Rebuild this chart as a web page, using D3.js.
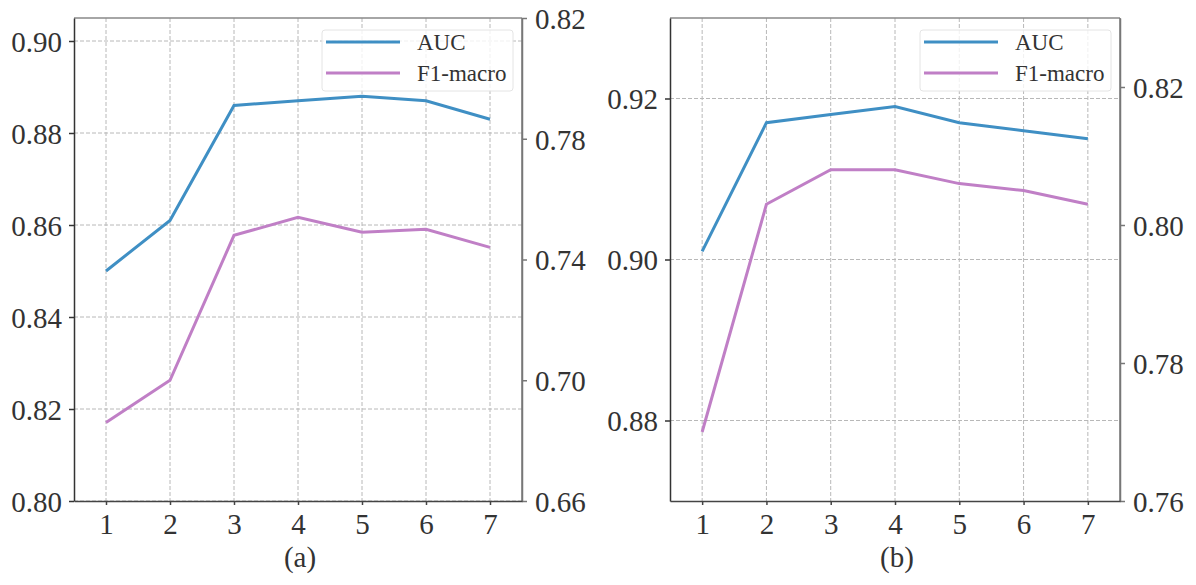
<!DOCTYPE html>
<meta charset="utf-8">
<html>
  <head>
    <script src="https://d3js.org/d3.v7.min.js"></script>
    <style>
      body { margin: 0; background: #fff; }
      text { font-family: "Liberation Serif", "Times New Roman", serif; fill: #333; }
    </style>
  </head>
  <body>
    <div id="chart"></div>

    <script type="text/javascript">
      // data
      var steps = [1, 2, 3, 4, 5, 6, 7];
      var aucA = [0.850, 0.861, 0.886, 0.887, 0.888, 0.887, 0.883];
      var f1A  = [0.686, 0.700, 0.748, 0.754, 0.749, 0.750, 0.744];
      var aucB = [0.901, 0.917, 0.918, 0.919, 0.917, 0.916, 0.915];
      var f1B  = [0.770, 0.803, 0.808, 0.808, 0.806, 0.805, 0.803];
      var leftTicksA  = [0.80, 0.82, 0.84, 0.86, 0.88, 0.90];
      var rightTicksA = [0.66, 0.70, 0.74, 0.78, 0.82];
      var leftTicksB  = [0.88, 0.90, 0.92];
      var rightTicksB = [0.76, 0.78, 0.80, 0.82];
      var seriesNames = ["AUC", "F1-macro"];
      var colors = ["#3f8fc4", "#c07fc6"];

      var width = 1196, height = 585;

      var svg = d3.select("#chart").append("svg")
          .attr("width", width)
          .attr("height", height);

      function panel(opt) {
        var x = d3.scaleLinear().domain([0.5, 7.5]).range([opt.left, opt.right]);
        var yL = d3.scaleLinear().domain(opt.leftDomain).range([501, 18]);
        var yR = d3.scaleLinear().domain(opt.rightDomain).range([501, 18]);
        var g = svg.append("g");

        // grid
        g.selectAll(".vgrid").data(steps).enter().append("line")
            .attr("x1", function(d){ return x(d); }).attr("x2", function(d){ return x(d); })
            .attr("y1", 18).attr("y2", 501)
            .style("stroke", "#b8b8b8").style("stroke-width", 1).style("stroke-dasharray", "4,2");
        g.selectAll(".hgrid").data(opt.leftTicks).enter().append("line")
            .attr("x1", opt.left).attr("x2", opt.right)
            .attr("y1", function(d){ return yL(d); }).attr("y2", function(d){ return yL(d); })
            .style("stroke", "#b8b8b8").style("stroke-width", 1).style("stroke-dasharray", "4,2");

        // lines
        var lineL = d3.line().x(function(d, i){ return x(steps[i]); }).y(function(d){ return yL(d); });
        var lineR = d3.line().x(function(d, i){ return x(steps[i]); }).y(function(d){ return yR(d); });
        g.append("path").datum(opt.auc).attr("d", lineL)
            .style("fill", "none").style("stroke", colors[0]).style("stroke-width", 3);
        g.append("path").datum(opt.f1).attr("d", lineR)
            .style("fill", "none").style("stroke", colors[1]).style("stroke-width", 3);

        // spines
        g.append("line").attr("x1", opt.left).attr("x2", opt.right).attr("y1", 18).attr("y2", 18)
            .style("stroke", "#888").style("stroke-width", 1.5);
        g.append("line").attr("x1", opt.right).attr("x2", opt.right).attr("y1", 18).attr("y2", 501)
            .style("stroke", "#777").style("stroke-width", 1.5);

        // axes
        var axL = g.append("g").attr("transform", "translate(" + opt.left + ",0)")
            .call(d3.axisLeft(yL).tickValues(opt.leftTicks).tickFormat(d3.format(".2f"))
              .tickSizeInner(5).tickSizeOuter(0).tickPadding(7));
        var axR = g.append("g").attr("transform", "translate(" + opt.right + ",0)")
            .call(d3.axisRight(yR).tickValues(opt.rightTicks).tickFormat(d3.format(".2f"))
              .tickSizeInner(5).tickSizeOuter(0).tickPadding(8));
        var axB = g.append("g").attr("transform", "translate(0,501)")
            .call(d3.axisBottom(x).tickValues(steps).tickFormat(d3.format("d"))
              .tickSizeInner(4).tickSizeOuter(0).tickPadding(8));

        [axL, axR, axB].forEach(function(a){
          a.selectAll("text").style("font-size", "29px").style("font-family", "Liberation Serif").style("fill", "#333");
        });
        axL.select(".domain").style("stroke", "#333").style("stroke-width", 1.5);
        axL.selectAll(".tick line").style("stroke", "#333").style("stroke-width", 1.5);
        axR.select(".domain").style("stroke", "#777").style("stroke-width", 1.5);
        axR.selectAll(".tick line").style("stroke", "#777").style("stroke-width", 1.5);
        axB.select(".domain").style("stroke", "#444").style("stroke-width", 1.5);
        axB.selectAll(".tick line").style("stroke", "#444").style("stroke-width", 1.5);
        axL.selectAll("text").attr("dy", "0.36em");
        axR.selectAll("text").attr("dy", "0.36em");

        // legend
        var lx = opt.right - 200, ly = 30;
        g.append("rect").attr("x", lx).attr("y", ly).attr("width", 191).attr("height", 61)
            .attr("rx", 3).style("fill", "#fff").style("fill-opacity", 0.8)
            .style("stroke", "#e4e4e4").style("stroke-width", 1);
        seriesNames.forEach(function(name, i){
          var yy = ly + 12 + i * 31;
          g.append("line").attr("x1", lx + 4).attr("x2", lx + 78).attr("y1", yy).attr("y2", yy)
              .style("stroke", colors[i]).style("stroke-width", 3);
          g.append("text").attr("x", lx + 95).attr("y", yy).attr("dy", "0.35em")
              .style("font-size", "23px").text(name);
        });

        // caption
        g.append("text").attr("x", (opt.left + opt.right) / 2 + 2).attr("y", 567)
            .style("text-anchor", "middle").style("font-size", "29px").text(opt.caption);
      }

      panel({ left: 74, right: 522, auc: aucA, f1: f1A,
              leftDomain: [0.80, 0.905], rightDomain: [0.66, 0.82],
              leftTicks: leftTicksA, rightTicks: rightTicksA, caption: "(a)" });
      panel({ left: 670, right: 1120, auc: aucB, f1: f1B,
              leftDomain: [0.870, 0.930], rightDomain: [0.76, 0.83],
              leftTicks: leftTicksB, rightTicks: rightTicksB, caption: "(b)" });
    </script>
  </body>
</html>
